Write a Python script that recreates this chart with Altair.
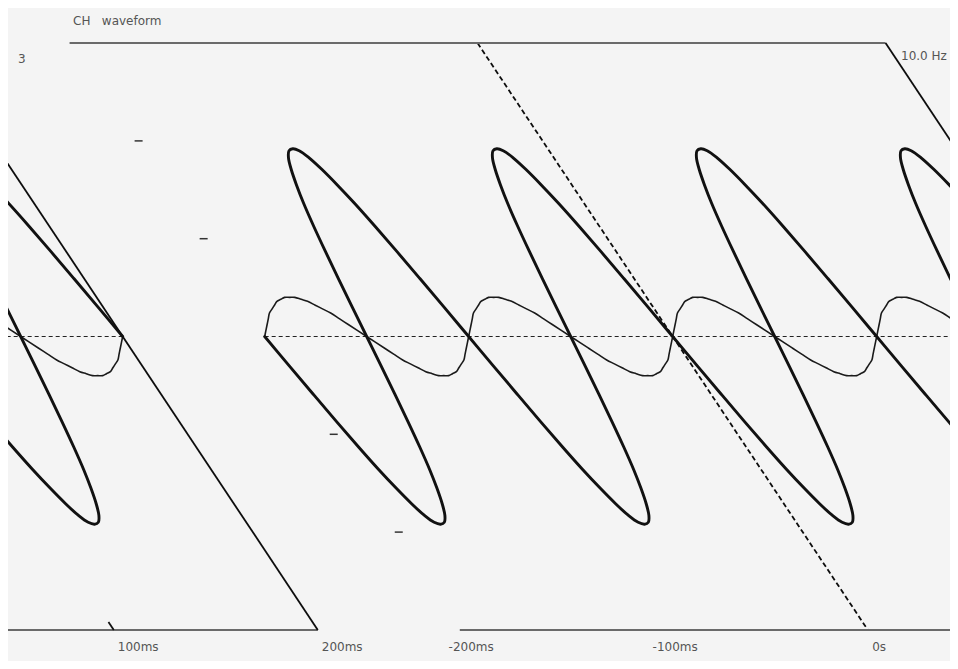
import altair as alt
import pandas as pd

# ------------------------------------------------------------------
# Data (two traces, divisions vs. time in ms)
# ------------------------------------------------------------------
TIME_MS = [round(-200 + 2.5 * i, 1) for i in range(161)]  # sample clock

CH1_DIV = [  # thick trace
    0, -0.30, -0.59, -0.87, -1.13, -1.36, -1.55, -1.71, -1.83, -1.90, -1.92, -1.90, -1.83, -1.71, -1.55, -1.36, -1.13, -0.87, -0.59, -0.30,
    0, 0.30, 0.59, 0.87, 1.13, 1.36, 1.55, 1.71, 1.83, 1.90, 1.92, 1.90, 1.83, 1.71, 1.55, 1.36, 1.13, 0.87, 0.59, 0.30,
    0, -0.30, -0.59, -0.87, -1.13, -1.36, -1.55, -1.71, -1.83, -1.90, -1.92, -1.90, -1.83, -1.71, -1.55, -1.36, -1.13, -0.87, -0.59, -0.30,
    0, 0.30, 0.59, 0.87, 1.13, 1.36, 1.55, 1.71, 1.83, 1.90, 1.92, 1.90, 1.83, 1.71, 1.55, 1.36, 1.13, 0.87, 0.59, 0.30,
    0, -0.30, -0.59, -0.87, -1.13, -1.36, -1.55, -1.71, -1.83, -1.90, -1.92, -1.90, -1.83, -1.71, -1.55, -1.36, -1.13, -0.87, -0.59, -0.30,
    0, 0.30, 0.59, 0.87, 1.13, 1.36, 1.55, 1.71, 1.83, 1.90, 1.92, 1.90, 1.83, 1.71, 1.55, 1.36, 1.13, 0.87, 0.59, 0.30,
    0, -0.30, -0.59, -0.87, -1.13, -1.36, -1.55, -1.71, -1.83, -1.90, -1.92, -1.90, -1.83, -1.71, -1.55, -1.36, -1.13, -0.87, -0.59, -0.30,
    0, 0.30, 0.59, 0.87, 1.13, 1.36, 1.55, 1.71, 1.83, 1.90, 1.92, 1.90, 1.83, 1.71, 1.55, 1.36, 1.13, 0.87, 0.59, 0.30,
    0,
]

CH2_DIV = [  # thin trace
    0, 0.06, 0.12, 0.18, 0.24, 0.28, 0.32, 0.36, 0.38, 0.40, 0.40, 0.40, 0.38, 0.36, 0.32, 0.28, 0.24, 0.18, 0.12, 0.06,
    0, -0.06, -0.12, -0.18, -0.24, -0.28, -0.32, -0.36, -0.38, -0.40, -0.40, -0.40, -0.38, -0.36, -0.32, -0.28, -0.24, -0.18, -0.12, -0.06,
    0, 0.06, 0.12, 0.18, 0.24, 0.28, 0.32, 0.36, 0.38, 0.40, 0.40, 0.40, 0.38, 0.36, 0.32, 0.28, 0.24, 0.18, 0.12, 0.06,
    0, -0.06, -0.12, -0.18, -0.24, -0.28, -0.32, -0.36, -0.38, -0.40, -0.40, -0.40, -0.38, -0.36, -0.32, -0.28, -0.24, -0.18, -0.12, -0.06,
    0, 0.06, 0.12, 0.18, 0.24, 0.28, 0.32, 0.36, 0.38, 0.40, 0.40, 0.40, 0.38, 0.36, 0.32, 0.28, 0.24, 0.18, 0.12, 0.06,
    0, -0.06, -0.12, -0.18, -0.24, -0.28, -0.32, -0.36, -0.38, -0.40, -0.40, -0.40, -0.38, -0.36, -0.32, -0.28, -0.24, -0.18, -0.12, -0.06,
    0, 0.06, 0.12, 0.18, 0.24, 0.28, 0.32, 0.36, 0.38, 0.40, 0.40, 0.40, 0.38, 0.36, 0.32, 0.28, 0.24, 0.18, 0.12, 0.06,
    0, -0.06, -0.12, -0.18, -0.24, -0.28, -0.32, -0.36, -0.38, -0.40, -0.40, -0.40, -0.38, -0.36, -0.32, -0.28, -0.24, -0.18, -0.12, -0.06,
    0,
]

X_TICK_MS = [-200, -100, 0, 100, 200]
X_TICK_TEXT = ["-200ms", "-100ms", "0s", "100ms", "200ms"]
X_MARK_MS = [100]            # the one bottom tick that is visible
Y_TICK_DIV = [-2, -1, 1, 2]
T_RANGE_MS = [-200, 200]
V_RANGE_DIV = [-3, 3]
TRIGGER_MS = [0]
TITLE_TEXT = "CH\u00a0\u00a0\u00a0waveform"
RIGHT_TEXT = "10.0 Hz"
LEFT_TEXT = "3"

# ------------------------------------------------------------------
# Geometry of the skewed, wrapped capture (screen pixels)
# ------------------------------------------------------------------
W, H, OFF = 942, 653, 8
PX_PER_MS = 2.04
X_T0 = 477.5          # screen x of t=0 on the top row of the frame
PX_PER_DIV = 97.8
Y_V0 = 336.5          # screen y of 0 div
SHEAR = 0.665         # px of horizontal drift per screen row
Y_SHEAR0 = 43
WRAP = 958
TICK_PX = 8
LABEL_V = -3.175


def raw_x(t, v):
    return f"({X_T0} + {PX_PER_MS}*({t}) + {SHEAR}*({Y_V0} - {PX_PER_DIV}*({v}) - {Y_SHEAR0}))"


def xs_expr(t, v):
    return raw_x(t, v) + " + datum.shift"


def wrapped(ch):
    return ch.transform_calculate(shift=f"[0, {-WRAP}]").transform_flatten(["shift"])


xscale = alt.Scale(domain=[OFF, OFF + W], nice=False, zero=False)
yscale = alt.Scale(domain=[(Y_V0 - (OFF + H)) / PX_PER_DIV, (Y_V0 - OFF) / PX_PER_DIV],
                   nice=False, zero=False)

curve_df = pd.DataFrame({
    "t": TIME_MS * 2,
    "v": CH1_DIV + CH2_DIV,
    "ch": ["CH1"] * len(TIME_MS) + ["CH2"] * len(TIME_MS),
})

t0, t1 = T_RANGE_MS
v0, v1 = V_RANGE_DIV
frame_df = pd.DataFrame({
    "t1": [t0, t0, t1], "v1": [v1, v0, v1],
    "t2": [t1, t1, t1], "v2": [v1, v0, v0],
    "part": ["h", "h", "d"],
})
zero_df = pd.DataFrame({"t1": [t0], "v1": [0], "t2": [t1], "v2": [0]})
trig_df = pd.DataFrame({"t1": TRIGGER_MS, "v1": [v1], "t2": TRIGGER_MS, "v2": [v0]})
ytick_df = pd.DataFrame({"t1": [t0] * len(Y_TICK_DIV), "v1": Y_TICK_DIV, "v2": Y_TICK_DIV})
xtick_df = pd.DataFrame({"t1": X_MARK_MS, "v1": [v0] * len(X_MARK_MS)})
label_df = pd.DataFrame({"t": X_TICK_MS, "label": X_TICK_TEXT})


def seg_layer(df, extra=None):
    ch = wrapped(alt.Chart(df))
    if extra:
        ch = ch.transform_calculate(**extra)
    return ch.transform_calculate(
        x1=xs_expr("datum.t1", "datum.v1"),
        x2=xs_expr("datum.t2", "datum.v2"),
    )


def seg_encode(ch):
    return ch.encode(
        x=alt.X("x1:Q", scale=xscale, axis=None),
        x2="x2:Q",
        y=alt.Y("v1:Q", scale=yscale, axis=None),
        y2="v2:Q",
    )


frame_h = seg_encode(seg_layer(frame_df).transform_filter("datum.part == 'h'")
                     .mark_rule(clip=True, color="#6a6a6a", strokeWidth=2))
frame_d = seg_encode(seg_layer(frame_df).transform_filter("datum.part == 'd'")
                     .mark_rule(clip=True, color="#0d0d0d", strokeWidth=1.8))
zero_line = seg_encode(seg_layer(zero_df).mark_rule(clip=True, color="#222222",
                                                    strokeWidth=1, strokeDash=[4, 3]))
trig_line = seg_encode(seg_layer(trig_df).mark_rule(clip=True, color="#0d0d0d",
                                                    strokeWidth=1.8, strokeDash=[5, 3]))
yticks = seg_encode(seg_layer(ytick_df, {"t2": f"datum.t1 + {TICK_PX}/{PX_PER_MS}"})
                    .mark_rule(clip=True, color="#333333", strokeWidth=1.5))
xticks = seg_encode(seg_layer(xtick_df, {"t2": "datum.t1",
                                         "v2": f"datum.v1 + {TICK_PX}/{PX_PER_DIV}"})
                    .mark_rule(clip=True, color="#111111", strokeWidth=1.8))

curve_base = wrapped(alt.Chart(curve_df)).transform_calculate(xs=xs_expr("datum.t", "datum.v"))


def curve(ch_name, width, color):
    return curve_base.transform_filter(f"datum.ch == '{ch_name}'").mark_line(
        clip=True, color=color, strokeWidth=width, interpolate="catmull-rom",
        strokeJoin="round", strokeCap="round",
    ).encode(
        x=alt.X("xs:Q", scale=xscale, axis=None),
        y=alt.Y("v:Q", scale=yscale, axis=None),
        detail="shift:N",
        order="t:Q",
    )


thick = curve("CH1", 2.9, "#111111")
thin = curve("CH2", 1.6, "#1a1a1a")

# labels: each drawn once, folded back into the picture when it runs past its right edge
label_base = alt.Chart(label_df).transform_calculate(
    lv=f"{LABEL_V}", xr=raw_x("datum.t", LABEL_V)
).transform_calculate(
    xs=f"datum.xr > {WRAP} ? datum.xr - {WRAP} : datum.xr"
)


def labels(flt, dx):
    return label_base.transform_filter(flt).mark_text(
        align="center", baseline="middle", fontSize=12, dx=dx,
        font="DejaVu Sans", color="#555555",
    ).encode(
        x=alt.X("xs:Q", scale=xscale, axis=None),
        y=alt.Y("lv:Q", scale=yscale, axis=None),
        text="label:N",
    )


labels_neg = labels("datum.t <= 0", 0)
labels_pos = labels("datum.t > 0", 13)


def note(txt, x, y, align="left"):
    return alt.Chart(pd.DataFrame({"txt": [txt]})).mark_text(
        align=align, baseline="middle", fontSize=12, font="DejaVu Sans", color="#555555"
    ).encode(x=alt.value(x), y=alt.value(y), text="txt:N")


title = note(TITLE_TEXT, 65, 13)
right_note = note(RIGHT_TEXT, 893, 48)
left_note = note(LEFT_TEXT, 10, 51)

chart = alt.layer(
    zero_line, trig_line, frame_h, frame_d, yticks, xticks,
    thin, thick, labels_neg, labels_pos, title, right_note, left_note,
).properties(
    width=W, height=H,
    autosize=alt.AutoSizeParams(type="none"),
    padding=0,
    background="#f4f4f4",
).configure_view(strokeWidth=0)

chart.save("out.html", embed_options={"renderer": "svg", "actions": False})
